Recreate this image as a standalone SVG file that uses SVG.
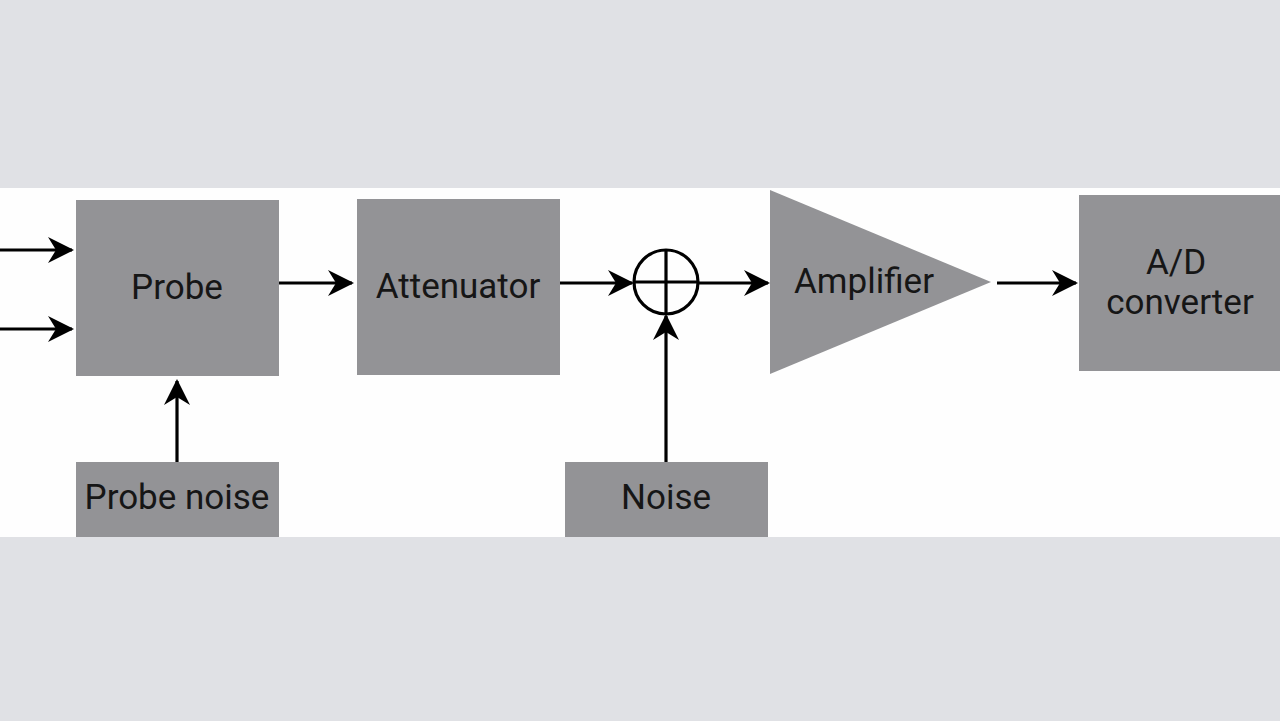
<svg xmlns="http://www.w3.org/2000/svg" width="1280" height="721" viewBox="0 0 1280 721">
<style>
.box{fill:#939396}
.lbl{font-family:"Roboto","Liberation Sans",sans-serif;font-size:35px;fill:#161616;text-anchor:middle}
.ln{stroke:#000;stroke-width:3.2;fill:none}
</style>
<defs>
<marker id="ah" viewBox="0 0 26 26" refX="24" refY="13" markerWidth="26" markerHeight="26" markerUnits="userSpaceOnUse" orient="auto">
<path d="M0,0 L26,13 L0,26 L8,13 Z" fill="#000"/>
</marker>
</defs>
<rect width="1280" height="721" fill="#e0e1e5"/>
<rect x="0" y="188" width="1280" height="349" fill="#fefefe"/>
<g id="probe"><rect class="box" x="76" y="200" width="203" height="176"/><text class="lbl" x="177" y="299">Probe</text></g>
<g id="attenuator"><rect class="box" x="357" y="199" width="203" height="176"/><text class="lbl" x="458" y="298">Attenuator</text></g>
<g id="sum"><circle cx="666" cy="282" r="32" fill="none" stroke="#000" stroke-width="3.2"/><path class="ln" d="M634,282 H698 M666,250 V314"/></g>
<g id="amplifier"><path class="box" d="M770,190 L991,282 L770,374 Z"/><text class="lbl" x="864" y="293">Amplifier</text></g>
<g id="adc"><rect class="box" x="1079" y="195" width="201" height="176"/><text class="lbl" x="1176" y="274">A/D</text><text class="lbl" x="1180" y="314">converter</text></g>
<g id="probe-noise"><rect class="box" x="76" y="462" width="203" height="75"/><text class="lbl" x="177" y="509">Probe noise</text></g>
<g id="noise"><rect class="box" x="565" y="462" width="203" height="75"/><text class="lbl" x="666" y="509">Noise</text></g>
<g id="connectors">
<line class="ln" x1="0" y1="250" x2="72" y2="250" marker-end="url(#ah)"/>
<line class="ln" x1="0" y1="329" x2="72" y2="329" marker-end="url(#ah)"/>
<line class="ln" x1="279" y1="283" x2="352" y2="283" marker-end="url(#ah)"/>
<line class="ln" x1="560" y1="283" x2="632" y2="283" marker-end="url(#ah)"/>
<line class="ln" x1="698" y1="283" x2="768" y2="283" marker-end="url(#ah)"/>
<line class="ln" x1="997" y1="283" x2="1076" y2="283" marker-end="url(#ah)"/>
<line class="ln" x1="177" y1="462" x2="177" y2="381" marker-end="url(#ah)"/>
<line class="ln" x1="666" y1="462" x2="666" y2="316" marker-end="url(#ah)"/>
</g>
</svg>
